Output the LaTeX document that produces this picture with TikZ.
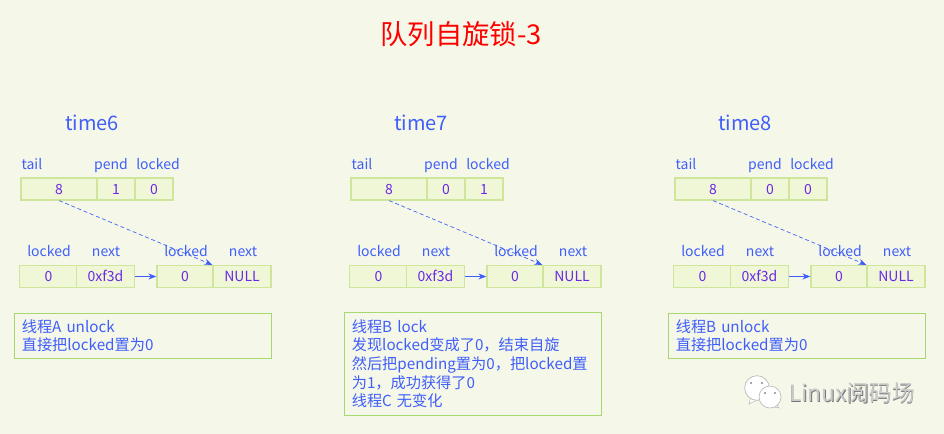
\documentclass[tikz,border=0pt]{standalone}
\usepackage{fontspec}
\setmainfont{Noto Sans CJK SC}
\usetikzlibrary{arrows.meta,calc}
\definecolor{bgcol}{HTML}{F5F8E8}
\definecolor{cellfill}{HTML}{EFF7D6}
\definecolor{celldraw}{HTML}{CFE59B}
\definecolor{notedraw}{HTML}{A5D86E}
\definecolor{labelblue}{HTML}{3F5EFB}
\definecolor{valblue}{HTML}{6A28E8}
\definecolor{markgrey}{HTML}{8A8A8A}
\tikzset{
	cell/.style={draw=celldraw, line width=0.9pt, fill=cellfill, text=valblue, inner sep=0pt, minimum height=16.5pt, text height=8pt, text depth=0pt, font=\fontsize{10.5}{12}\selectfont},
	lbl/.style={text=labelblue, inner sep=0pt, text height=8pt, text depth=2pt, font=\fontsize{10.5}{12}\selectfont},
	timelbl/.style={text=labelblue, inner sep=0pt, font=\fontsize{15}{18}\selectfont},
	note/.style={draw=notedraw, line width=0.7pt, anchor=north west, align=left, text=labelblue, inner sep=0pt, minimum width=192.5pt, text width=181.5pt, font=\fontsize{11.4}{14}\selectfont},
	bubble/.style={circle, draw=markgrey!60, line width=0.5pt, fill=white, inner sep=0pt}
}
\begin{document}
\begin{tikzpicture}[x=0.75pt, y=-0.75pt]
	\useasboundingbox[fill=bgcol] (0,0) rectangle (944,434);
	\node[text=red, inner sep=0pt, font=\fontsize{20.5}{24}\selectfont] (title) at (461,34) {队列自旋锁-3};
	% one panel per point in time
	\foreach \t/\xs/\tx/\pend/\lock in {6/0/92/1/0, 7/330/421/0/1, 8/654/745/0/0} {
		\node[timelbl] (time\t) at (\tx,123) {time\t};
		\node[cell, minimum width=57pt] (tail\t) at (59+\xs,189) {8};
		\node[cell, minimum width=28.5pt] (pend\t) at (116+\xs,189) {\pend};
		\node[cell, minimum width=28.5pt] (lock\t) at (154+\xs,189) {\lock};
		\node[lbl] at (32+\xs,166) {tail};
		\node[lbl] at (111+\xs,166) {pend};
		\node[lbl] at (158+\xs,166) {locked};
		\node[cell, minimum width=43pt] (cura\t) at (48.5+\xs,276.5) {0};
		\node[cell, minimum width=43pt] (curb\t) at (105.5+\xs,276.5) {0xf3d};
		\node[cell, minimum width=42pt] (nxta\t) at (185+\xs,276.5) {0};
		\node[cell, minimum width=43.5pt] (nxtb\t) at (242+\xs,276.5) {NULL};
		\node[lbl] at (49+\xs,253) {locked};
		\node[lbl] at (106+\xs,253) {next};
		\node[lbl] at (186+\xs,253) {locked};
		\node[lbl] at (243+\xs,253) {next};
		\draw[-{Stealth[length=6pt]}, labelblue, densely dashed, line width=0.5pt] (tail\t.south) -- (nxtb\t.north west);
		\draw[-{Stealth[length=6pt]}, labelblue, line width=0.7pt] (curb\t.east) -- (nxta\t.west);
	}
	\node[note, minimum height=33.5pt] (noteA) at (14,313) {线程A unlock\\直接把locked置为0};
	\node[note, minimum height=77pt] (noteB) at (344,312) {线程B lock\\发现locked变成了0，结束自旋\\然后把pending置为0，把locked置\\为1，成功获得了0\\线程C 无变化};
	\node[note, minimum height=33.5pt] (noteC) at (668,313) {线程B unlock\\直接把locked置为0};
	% watermark
	\fill[white, draw=markgrey!60, line width=0.4pt] (751,396) -- (749,404) -- (759,399) -- cycle;
	\node[bubble, minimum size=18.5pt] (bubbleA) at (757,388) {};
	\fill[white, draw=markgrey!60, line width=0.4pt] (776,404) -- (779,408) -- (769,406) -- cycle;
	\node[bubble, minimum size=16.5pt] (bubbleB) at (770,397) {};
	\foreach \bx/\by in {751/383, 762/383, 765/393, 775/393} \fill[markgrey] (\bx,\by) circle (0.8pt);
	\node[text=markgrey!85!black, inner sep=0pt, anchor=west, font=\fontsize{17}{20}\selectfont] (markshadow) at (789.6,393.6) {Linux阅码场};
	\node[text=markgrey!45, inner sep=0pt, anchor=west, font=\fontsize{17}{20}\selectfont] (mark) at (789,393) {Linux阅码场};
\end{tikzpicture}
\end{document}
